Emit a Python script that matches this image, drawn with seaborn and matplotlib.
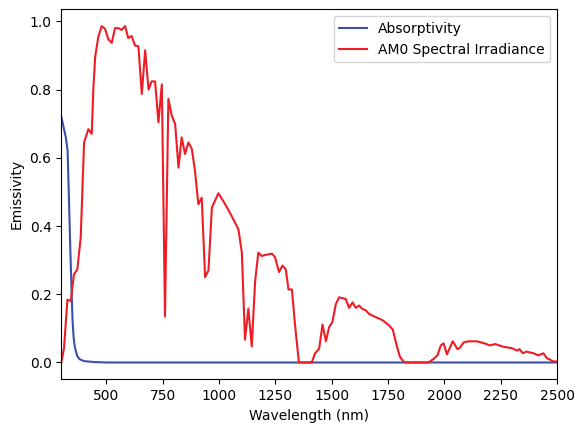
"""Absorptivity vs. normalised AM0 solar spectrum."""

import matplotlib
matplotlib.use("Agg")
import matplotlib.pyplot as plt
import seaborn as sns

# absorptivity of the coating
abs_wl = [300, 310, 320, 328, 335, 340, 345, 350, 355, 360, 370, 380, 400,
          450, 500, 1000, 1500, 2000, 2500]
abs_val = [0.72, 0.69, 0.66, 0.62, 0.45, 0.33, 0.22, 0.12, 0.07, 0.045, 0.02,
           0.01, 0.004, 0.001, 0.0, 0.0, 0.0, 0.0, 0.0]

# AM0 spectral irradiance, normalised to its peak
am0_wl = [300, 312, 327, 342, 356, 371, 386, 401, 420, 435, 442, 450, 464,
          479, 494, 509, 524, 538, 553, 568, 583, 597, 612, 627, 642, 657,
          672, 687, 701, 716, 731, 746, 760, 775, 790, 805, 820, 834, 849,
          864, 879, 893, 908, 923, 938, 953, 968, 997, 1027, 1056, 1086,
          1101, 1115, 1130, 1145, 1160, 1174, 1189, 1204, 1234, 1248, 1266,
          1281, 1296, 1308, 1323, 1337, 1354, 1411, 1426, 1444, 1459, 1474,
          1488, 1503, 1518, 1533, 1562, 1577, 1592, 1607, 1621, 1636, 1651,
          1666, 1695, 1725, 1754, 1771, 1789, 1803, 1818, 1830, 1929, 1951,
          1969, 1984, 1996, 2011, 2037, 2058, 2070, 2085, 2106, 2144, 2173,
          2203, 2225, 2262, 2299, 2321, 2333, 2348, 2363, 2395, 2417, 2439,
          2454, 2484, 2500]
am0_val = [0.0, 0.042, 0.184, 0.18, 0.258, 0.273, 0.366, 0.645, 0.684, 0.67,
           0.80, 0.895, 0.954, 0.986, 0.978, 0.947, 0.937, 0.98, 0.98, 0.975,
           0.986, 0.951, 0.957, 0.929, 0.927, 0.787, 0.915, 0.80, 0.824,
           0.824, 0.704, 0.815, 0.135, 0.773, 0.724, 0.699, 0.571, 0.66,
           0.611, 0.645, 0.626, 0.562, 0.464, 0.483, 0.25, 0.27, 0.454,
           0.496, 0.464, 0.429, 0.39, 0.322, 0.067, 0.158, 0.047, 0.238,
           0.322, 0.312, 0.315, 0.319, 0.309, 0.265, 0.284, 0.273, 0.214,
           0.214, 0.111, 0.0, 0.0, 0.027, 0.04, 0.111, 0.062, 0.103, 0.119,
           0.171, 0.191, 0.186, 0.16, 0.176, 0.16, 0.167, 0.157, 0.153,
           0.142, 0.133, 0.124, 0.109, 0.096, 0.047, 0.016, 0.003, 0.0, 0.0,
           0.01, 0.021, 0.05, 0.056, 0.024, 0.062, 0.039, 0.044, 0.059,
           0.062, 0.062, 0.057, 0.05, 0.054, 0.046, 0.042, 0.035, 0.039,
           0.027, 0.032, 0.027, 0.021, 0.027, 0.013, 0.003, 0.003]

fig = plt.figure(figsize=(5.84, 4.32), dpi=100)
ax = fig.add_axes([0.105, 0.122, 0.849, 0.8565])

sns.lineplot(x=abs_wl, y=abs_val, ax=ax, color="#3a50a8", label="Absorptivity")
sns.lineplot(x=am0_wl, y=am0_val, ax=ax, color="#ee1c25",
             label="AM0 Spectral Irradiance")

ax.set_xlim(300, 2500)
ax.set_xlabel("Wavelength (nm)")
ax.set_ylabel("Emissivity")
ax.legend(loc="upper right")

fig.savefig("out.png", dpi=100)
